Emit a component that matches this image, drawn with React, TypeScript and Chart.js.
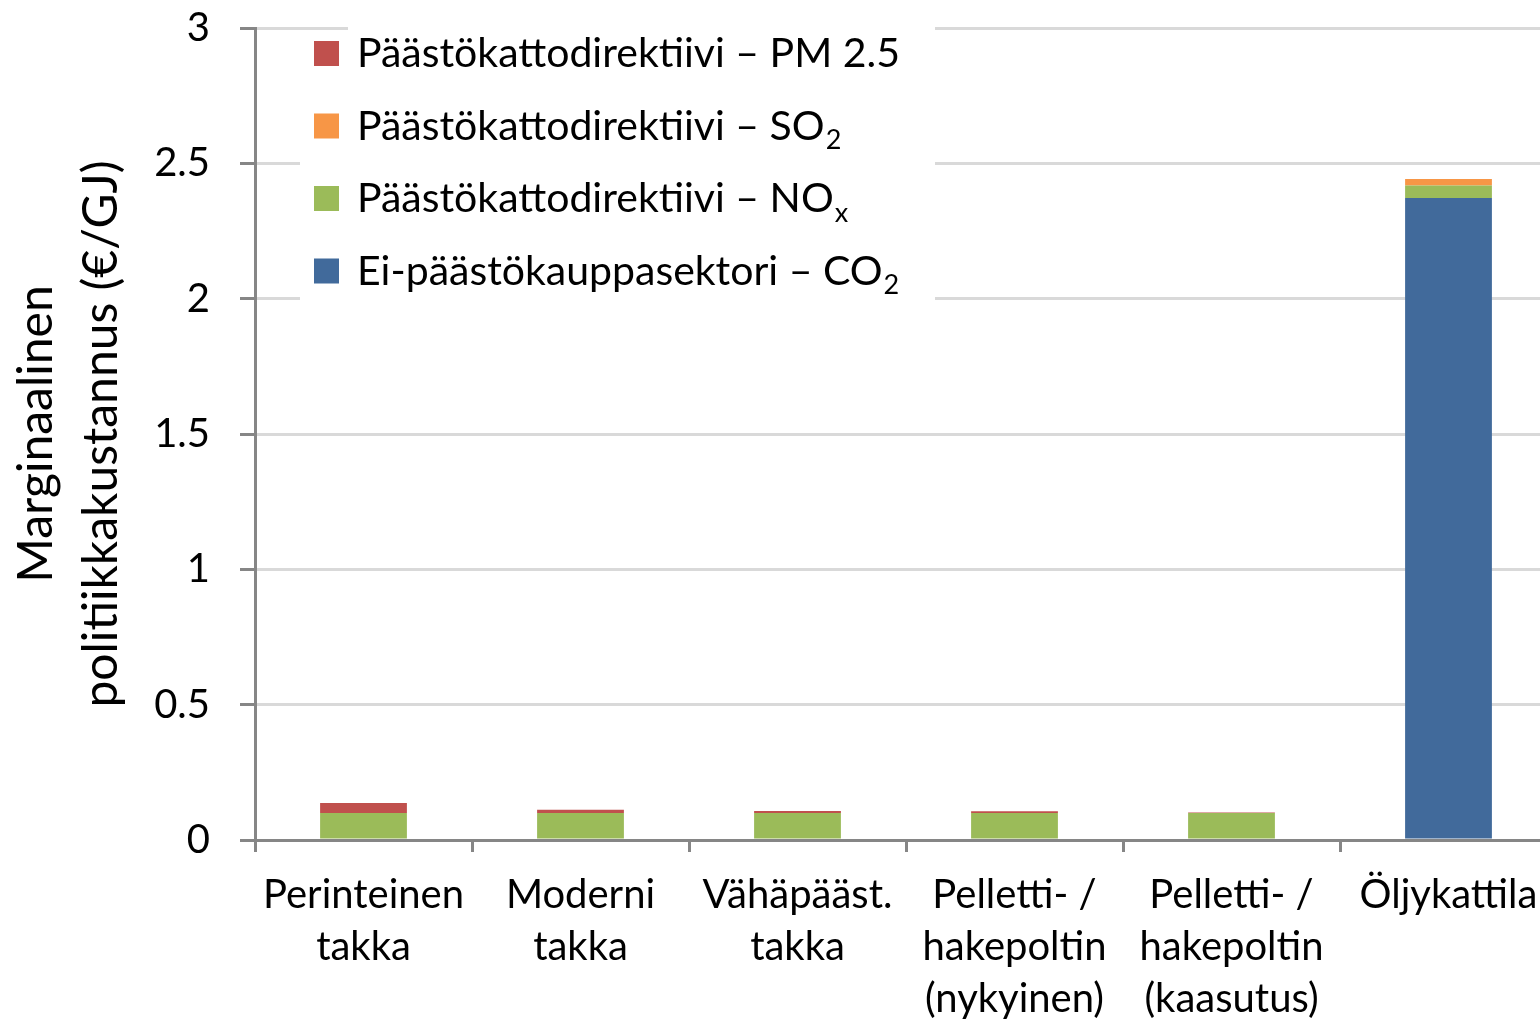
import React, { useEffect, useRef } from "react";
import { Chart, registerables } from "chart.js";

Chart.register(...registerables);

const categories: string[][] = [
  ["Perinteinen", "takka"],
  ["Moderni", "takka"],
  ["Vähäpääst.", "takka"],
  ["Pelletti- /", "hakepoltin", "(nykyinen)"],
  ["Pelletti- /", "hakepoltin", "(kaasutus)"],
  ["Öljykattila"],
];

const co2Values = [0, 0, 0, 0, 0, 2.372];
const noxValues = [0.1, 0.1, 0.1, 0.1, 0.1, 0.046];
const so2Values = [0, 0, 0, 0, 0, 0.024];
const pmValues = [0.037, 0.012, 0.007, 0.006, 0.002, 0];

const yTicks = [0, 0.5, 1, 1.5, 2, 2.5, 3];

// legend entries: [main text, subscript]
const legendEntries: { text: string; sub: string; color: string }[] = [
  { text: "Päästökattodirektiivi – PM 2.5", sub: "", color: "#C0504D" },
  { text: "Päästökattodirektiivi – SO", sub: "2", color: "#F79646" },
  { text: "Päästökattodirektiivi – NO", sub: "x", color: "#9BBB59" },
  { text: "Ei-päästökauppasektori – CO", sub: "2", color: "#416A9B" },
];

const FONT = "Lato, 'Open Sans', sans-serif";

const legendPlugin = {
  id: "customLegend",
  afterDatasetsDraw(chart: any) {
    const ctx = chart.ctx;
    ctx.save();
    ctx.fillStyle = "#ffffff";
    ctx.fillRect(348, 20, 935 - 348, 20);
    ctx.fillRect(300, 34, 935 - 300, 272);
    const startY = 54;
    const step = 72.5;
    legendEntries.forEach((e, i) => {
      const cy = startY + i * step;
      ctx.fillStyle = e.color;
      ctx.fillRect(314, cy - 13, 25, 25);
      ctx.fillStyle = "#000000";
      ctx.font = `41px ${FONT}`;
      ctx.textBaseline = "middle";
      ctx.textAlign = "left";
      ctx.fillText(e.text, 357, cy);
      if (e.sub) {
        const w = ctx.measureText(e.text).width;
        ctx.font = `27px ${FONT}`;
        ctx.fillText(e.sub, 357 + w + 1, cy + 14);
      }
    });
    ctx.restore();
  },
};

export default function App() {
  const ref = useRef<HTMLCanvasElement | null>(null);
  useEffect(() => {
    if (!ref.current) return;
    const chart = new Chart(ref.current, {
      type: "bar",
      data: {
        labels: categories,
        datasets: [
          { label: "Ei-päästökauppasektori – CO2", data: co2Values, backgroundColor: "#416A9B" },
          { label: "Päästökattodirektiivi – NOx", data: noxValues, backgroundColor: "#9BBB59" },
          { label: "Päästökattodirektiivi – SO2", data: so2Values, backgroundColor: "#F79646" },
          { label: "Päästökattodirektiivi – PM 2.5", data: pmValues, backgroundColor: "#C0504D" },
        ],
      },
      options: {
        animation: false,
        responsive: false,
        maintainAspectRatio: false,
        layout: { padding: { top: 28, right: 3, left: 0, bottom: 0 } },
        plugins: {
          legend: { display: false },
          tooltip: { enabled: false },
        },
        datasets: {
          bar: { categoryPercentage: 1, barPercentage: 0.4 },
        },
        scales: {
          x: {
            stacked: true,
            grid: {
              display: true,
              drawOnChartArea: false,
              offset: true,
              tickLength: 12,
              tickColor: "#868686",
              lineWidth: 3,
            },
            border: { display: true, color: "#868686", width: 3 },
            ticks: {
              color: "#000000",
              font: { family: FONT, size: 40, lineHeight: 1.3 },
              padding: 17,
              maxRotation: 0,
              autoSkip: false,
            },
            afterFit(scale: any) {
              scale.height = 1019 - 840;
              scale.paddingLeft = 0;
              scale.paddingRight = 0;
            },
          },
          y: {
            stacked: true,
            min: 0,
            max: 3,
            afterBuildTicks(scale: any) {
              scale.ticks = yTicks.map((v) => ({ value: v }));
            },
            grid: {
              color: "#D9D9D9",
              lineWidth: 3,
              tickLength: 15,
              tickColor: "#868686",
            },
            border: { display: true, color: "#868686", width: 3 },
            ticks: {
              color: "#000000",
              font: { family: FONT, size: 40 },
              padding: 30,
              callback: (v: any) => String(v),
            },
            title: {
              display: true,
              text: ["Marginaalinen", "politiikkakustannus (€/GJ)"],
              color: "#000000",
              font: { family: FONT, size: 48, lineHeight: 1.35 },
              padding: { top: 4, bottom: 0 },
            },
            afterFit(scale: any) {
              scale.width = 255;
              scale.paddingTop = 0;
              scale.paddingBottom = 0;
            },
          },
        },
      },
      plugins: [legendPlugin],
    });
    return () => chart.destroy();
  }, []);
  return (
    <div
      style={{
        position: "fixed",
        left: 0,
        top: 0,
        width: 1540,
        height: 1019,
        overflow: "hidden",
        background: "#ffffff",
      }}
    >
      <canvas ref={ref} width={1560} height={1019} style={{ width: 1560, height: 1019 }} />
    </div>
  );
}
